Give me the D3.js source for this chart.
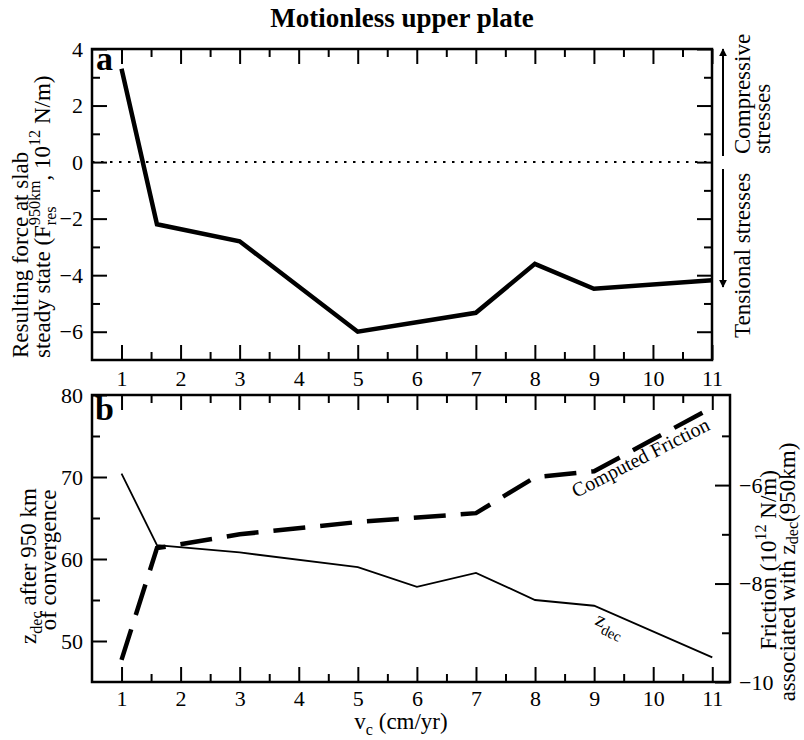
<!DOCTYPE html>
<html><head><meta charset="utf-8">
<script src="https://cdn.jsdelivr.net/npm/d3@7"></script>
<style>
body{margin:0;background:#fff}
text{font-family:"Liberation Serif","Times New Roman",serif;fill:#000}
</style>
</head><body><svg id="c" width="804" height="740"></svg>
<script>
// ---- data ----
const vcForce = [1, 1.6, 3, 5, 7, 8, 9, 11];
const forceValues = [3.3, -2.2, -2.8, -6.0, -5.33, -3.6, -4.48, -4.18];
const vcZdec = [1, 1.6, 3, 5, 6, 7, 8, 9, 11];
const zdecValues = [70.4, 61.7, 60.8, 59.0, 56.6, 58.3, 55.0, 54.3, 48.0];
const vcFriction = [1, 1.6, 3, 5, 7, 8, 9, 11];
const frictionValues = [-9.55, -7.28, -7.0, -6.75, -6.57, -5.84, -5.72, -4.42];
const xTicks = [1, 2, 3, 4, 5, 6, 7, 8, 9, 10, 11];
const xMinor = [1.5, 2.5, 3.5, 4.5, 5.5, 6.5, 7.5, 8.5, 9.5, 10.5];
const forceTicks = [-6, -4, -2, 0, 2, 4];
const forceMinor = [-5, -3, -1, 1, 3];
const zdecTicks = [50, 60, 70, 80];
const zdecMinor = [55, 65, 75];
const frictionTicks = [-10, -8, -6];
const frictionMinor = [-9, -7, -5];

const svg = d3.select("#c");
const FS = 22, LS = 23, MAJ = 15, MIN = 8;

const x1 = d3.scaleLinear().domain([0.5, 11]).range([92, 712]);
const x2 = d3.scaleLinear().domain([0.5, 11.3]).range([92, 730]);
const y1 = d3.scaleLinear().domain([-7, 4]).range([360, 49]);
const y2 = d3.scaleLinear().domain([45, 80]).range([682, 395]);
const y2r = d3.scaleLinear().domain([-10, -4.17]).range([682, 395]);

function styleAxis(g){
  g.select(".domain").remove();
  g.attr("font-family",null).attr("font-size",null);
  g.selectAll(".tick line").attr("stroke","#000").attr("stroke-width",2);
  g.selectAll(".tick text").attr("font-size",FS);
}
function axis(gen, scale, vals, size, pad, fmt, tr){
  const a = gen(scale).tickValues(vals).tickSize(-size).tickPadding(pad)
    .tickFormat(fmt ? d3.format("d") : () => "");
  svg.append("g").attr("transform", tr).call(a).call(styleAxis);
}

// ---- panel a ----
axis(d3.axisBottom, x1, xTicks, MAJ, 10, true, "translate(0,360)");
axis(d3.axisBottom, x1, xMinor, MIN, 10, false, "translate(0,360)");
axis(d3.axisTop, x1, xTicks, MAJ, 5, false, "translate(0,49)");
axis(d3.axisTop, x1, xMinor, MIN, 5, false, "translate(0,49)");
axis(d3.axisLeft, y1, forceTicks, MAJ, 9, true, "translate(92,0)");
axis(d3.axisLeft, y1, forceMinor, MIN, 9, false, "translate(92,0)");
axis(d3.axisRight, y1, forceTicks, MAJ, 9, false, "translate(712,0)");
axis(d3.axisRight, y1, forceMinor, MIN, 9, false, "translate(712,0)");

svg.append("line").attr("x1",x1(0.5)).attr("x2",x1(11)).attr("y1",y1(0)).attr("y2",y1(0))
  .attr("stroke","#000").attr("stroke-width",2).attr("stroke-dasharray","2.5,6.5");

svg.append("path").datum(vcForce.map((v,i)=>[v,forceValues[i]]))
  .attr("d", d3.line().x(d=>x1(d[0])).y(d=>y1(d[1])))
  .attr("fill","none").attr("stroke","#000").attr("stroke-width",4.5);

svg.append("rect").attr("x",92).attr("y",49).attr("width",620).attr("height",311)
  .attr("fill","none").attr("stroke","#000").attr("stroke-width",2.5);

// ---- panel b ----
axis(d3.axisBottom, x2, xTicks, MAJ, 8, true, "translate(0,682)");
axis(d3.axisBottom, x2, xMinor, MIN, 8, false, "translate(0,682)");
axis(d3.axisTop, x2, xTicks, MAJ, 5, false, "translate(0,395)");
axis(d3.axisTop, x2, xMinor, MIN, 5, false, "translate(0,395)");
axis(d3.axisLeft, y2, zdecTicks, MAJ, 9, true, "translate(92,0)");
axis(d3.axisLeft, y2, zdecMinor, MIN, 9, false, "translate(92,0)");
axis(d3.axisRight, y2r, frictionTicks, MAJ, 9, true, "translate(730,0)");
axis(d3.axisRight, y2r, frictionMinor, MIN, 9, false, "translate(730,0)");

svg.append("path").datum(vcZdec.map((v,i)=>[v,zdecValues[i]]))
  .attr("d", d3.line().x(d=>x2(d[0])).y(d=>y2(d[1])))
  .attr("fill","none").attr("stroke","#000").attr("stroke-width",1.8);

svg.append("path").datum(vcFriction.map((v,i)=>[v,frictionValues[i]]))
  .attr("d", d3.line().x(d=>x2(d[0])).y(d=>y2r(d[1])))
  .attr("fill","none").attr("stroke","#000").attr("stroke-width",4.5)
  .attr("stroke-dasharray","32,15");

svg.append("rect").attr("x",92).attr("y",395).attr("width",638).attr("height",287)
  .attr("fill","none").attr("stroke","#000").attr("stroke-width",2.5);

// ---- texts ----
function rich(x, y, rot, anchor, size, parts){
  const t = svg.append("text").attr("transform",`translate(${x},${y}) rotate(${rot})`)
    .attr("text-anchor",anchor).attr("font-size",size);
  let shift = 0; let prevW = 0;
  parts.forEach(p=>{
    const small = p.k === "sup" || p.k === "sub";
    const target = p.k === "sup" ? -0.42*size : p.k === "sub" ? (p.s ?? 0.28)*size : 0;
    const ts = t.append("tspan").text(p.t).attr("dy", target - shift)
      .attr("font-size", small ? size*0.7 : size);
    if (p.back) ts.attr("dx", -prevW);
    shift = target;
    prevW = ts.node().getComputedTextLength();
  });
  return t;
}

svg.append("text").attr("x",402).attr("y",27).attr("text-anchor","middle")
  .attr("font-size",27).attr("font-weight","bold").text("Motionless upper plate");

svg.append("text").attr("x",96).attr("y",70).attr("font-size",34).attr("font-weight","bold").text("a");
svg.append("text").attr("x",95).attr("y",420).attr("font-size",34).attr("font-weight","bold").text("b");

rich(28, 358, -90, "start", LS, [{t:"Resulting force at slab"}]);
rich(50, 358, -90, "start", LS, [
  {t:"steady state (F"},{t:"res",k:"sub"},{t:"950km",k:"sup",back:true},
  {t:", 10"},{t:"12",k:"sup"},{t:" N/m)"}]);

rich(36, 566, -90, "middle", LS, [{t:"z"},{t:"dec",k:"sub"},{t:" after 950 km"}]);
rich(56, 560, -90, "middle", LS, [{t:"of convergence"}]);

rich(776, 560, -90, "middle", LS, [{t:"Friction (10"},{t:"12",k:"sup"},{t:" N/m)"}]);
rich(795, 572, -90, "middle", LS, [{t:"associated with z"},{t:"dec",k:"sub",s:0.14},{t:"(950km)"}]);

rich(750, 154, -90, "start", LS, [{t:"Compressive"}]);
rich(770, 154, -90, "start", LS, [{t:"stresses"}]);
rich(750, 338, -90, "start", LS, [{t:"Tensional stresses"}]);

// arrows
svg.append("defs").append("marker").attr("id","ah").attr("viewBox","0 0 10 10")
  .attr("refX",9).attr("refY",5).attr("markerWidth",4).attr("markerHeight",4)
  .attr("orient","auto").attr("markerUnits","strokeWidth")
  .append("path").attr("d","M0,0 L10,5 L0,10 z").attr("fill","#000");
svg.append("line").attr("x1",723).attr("x2",723).attr("y1",156).attr("y2",49)
  .attr("stroke","#000").attr("stroke-width",2).attr("marker-end","url(#ah)");
svg.append("line").attr("x1",723).attr("x2",723).attr("y1",169).attr("y2",287)
  .attr("stroke","#000").attr("stroke-width",2).attr("marker-end","url(#ah)");

rich(401, 729, 0, "middle", LS, [{t:"v"},{t:"c",k:"sub"},{t:" (cm/yr)"}]);

rich(576, 498, -27, "start", 20, [{t:"Computed Friction"}]);
rich(594, 624, 25, "start", 21, [{t:"z"},{t:"dec",k:"sub"}]);
</script></body></html>
